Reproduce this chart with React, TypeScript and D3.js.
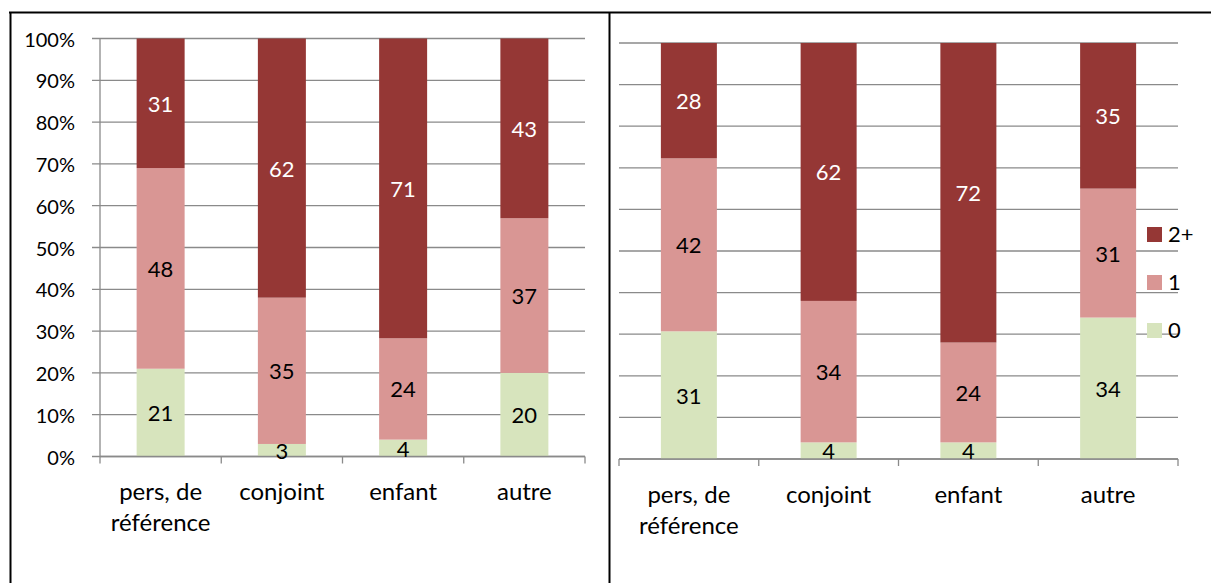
import React from "react";
import * as d3 from "d3";

const categories = ["pers, de\nréférence", "conjoint", "enfant", "autre"];
const seriesKeys = ["0", "1", "2+"];
const seriesColors = ["#D7E4BD", "#D99694", "#953735"];
const labelColors = ["#000000", "#000000", "#FFFFFF"];

const left0 = [21, 3, 4, 20];
const left1 = [48, 35, 24, 37];
const left2 = [31, 62, 71, 43];

const right0 = [31, 4, 4, 34];
const right1 = [42, 34, 24, 31];
const right2 = [28, 62, 72, 35];

const yTicks = [0, 10, 20, 30, 40, 50, 60, 70, 80, 90, 100];

const FONT = "Lato, 'Open Sans', sans-serif";
const GRID = "#8A8A8A";

type Cfg = {
  x0: number;
  x1: number;
  yTop: number;
  yBottom: number;
  barW: number;
  s0: number[];
  s1: number[];
  s2: number[];
  showYAxis: boolean;
  showLegend: boolean;
  catY: number;
};

function Chart({ cfg }: { cfg: Cfg }) {
  const rows = categories.map((c, i) => ({
    cat: c,
    "0": cfg.s0[i],
    "1": cfg.s1[i],
    "2+": cfg.s2[i],
  }));
  const stack = d3
    .stack<any>()
    .keys(seriesKeys)
    .offset(d3.stackOffsetExpand);
  const layers = stack(rows);
  const x = d3.scaleBand().domain(categories).range([cfg.x0, cfg.x1]).padding(0);
  const y = d3.scaleLinear().domain([0, 1]).range([cfg.yBottom, cfg.yTop]);
  const bw = x.bandwidth();
  const bounds = [cfg.x0, ...categories.map((c) => (x(c) as number) + bw)];

  return (
    <g>
      {yTicks.map((t) => (
        <line
          key={"g" + t}
          x1={cfg.showYAxis ? cfg.x0 - 8 : cfg.x0}
          x2={cfg.x1}
          y1={y(t / 100)}
          y2={y(t / 100)}
          stroke={GRID}
          strokeWidth={1.3}
        />
      ))}
      {cfg.showYAxis && (
        <line x1={cfg.x0} x2={cfg.x0} y1={cfg.yTop} y2={cfg.yBottom} stroke={GRID} strokeWidth={1.3} />
      )}
      {cfg.showYAxis &&
        yTicks.map((t) => (
          <text
            key={"yl" + t}
            x={cfg.x0 - 25}
            y={y(t / 100)}
            textAnchor="end"
            dominantBaseline="central"
            fontFamily={FONT}
            fontSize={20}
            fill="#000"
          >
            {t + "%"}
          </text>
        ))}
      {bounds.map((b, i) => (
        <line key={"xt" + i} x1={b} x2={b} y1={cfg.yBottom} y2={cfg.yBottom + 7} stroke={GRID} strokeWidth={1.3} />
      ))}
      {layers.map((layer, li) =>
        layer.map((d, i) => {
          const cx = (x(categories[i]) as number) + bw / 2;
          return (
            <rect
              key={"r" + li + "-" + i}
              x={cx - cfg.barW / 2}
              width={cfg.barW}
              y={y(d[1])}
              height={y(d[0]) - y(d[1])}
              fill={seriesColors[li]}
            />
          );
        })
      )}
      <line x1={cfg.x0} x2={cfg.x1} y1={cfg.yBottom} y2={cfg.yBottom} stroke={GRID} strokeWidth={1.3} />
      {layers.map((layer, li) =>
        layer.map((d, i) => {
          const cx = (x(categories[i]) as number) + bw / 2;
          const vals = [cfg.s0, cfg.s1, cfg.s2][li];
          return (
            <text
              key={"v" + li + "-" + i}
              x={cx}
              y={(y(d[0]) + y(d[1])) / 2}
              textAnchor="middle"
              dominantBaseline="central"
              fontFamily={FONT}
              fontSize={22}
              fill={labelColors[li]}
            >
              {vals[i]}
            </text>
          );
        })
      )}
      {categories.map((c, i) => {
        const cx = (x(c) as number) + bw / 2;
        const lines = c.split("\n");
        return (
          <text key={"c" + i} textAnchor="middle" fontFamily={FONT} fontSize={24} fill="#000">
            {lines.map((l, k) => (
              <tspan key={k} x={cx} y={cfg.catY + k * 31}>
                {l}
              </tspan>
            ))}
          </text>
        );
      })}
      {cfg.showLegend &&
        [2, 1, 0].map((si, k) => (
          <g key={"lg" + si}>
            <rect x={1147} y={227 + k * 48} width={15} height={15} fill={seriesColors[si]} />
            <text x={1168} y={242 + k * 48} fontFamily={FONT} fontSize={22} fill="#000">
              {seriesKeys[si]}
            </text>
          </g>
        ))}
    </g>
  );
}

export default function App() {
  const leftCfg: Cfg = {
    x0: 100,
    x1: 585,
    yTop: 38.5,
    yBottom: 456.5,
    barW: 48,
    s0: left0,
    s1: left1,
    s2: left2,
    showYAxis: true,
    showLegend: false,
    catY: 500,
  };
  const rightCfg: Cfg = {
    x0: 619,
    x1: 1178,
    yTop: 43,
    yBottom: 459,
    barW: 56,
    s0: right0,
    s1: right1,
    s2: right2,
    showYAxis: false,
    showLegend: true,
    catY: 503,
  };
  return (
    <svg
      width={1211}
      height={583}
      style={{ position: "absolute", left: 0, top: 0, background: "#fff" }}
    >
      <rect width={1211} height={583} fill="#fff" />
      <line x1={9} x2={1211} y1={12.5} y2={12.5} stroke="#000" strokeWidth={2} />
      <line x1={10.5} x2={10.5} y1={12} y2={583} stroke="#000" strokeWidth={2} />
      <line x1={609.5} x2={609.5} y1={12} y2={583} stroke="#000" strokeWidth={2} />
      <Chart cfg={leftCfg} />
      <Chart cfg={rightCfg} />
    </svg>
  );
}
